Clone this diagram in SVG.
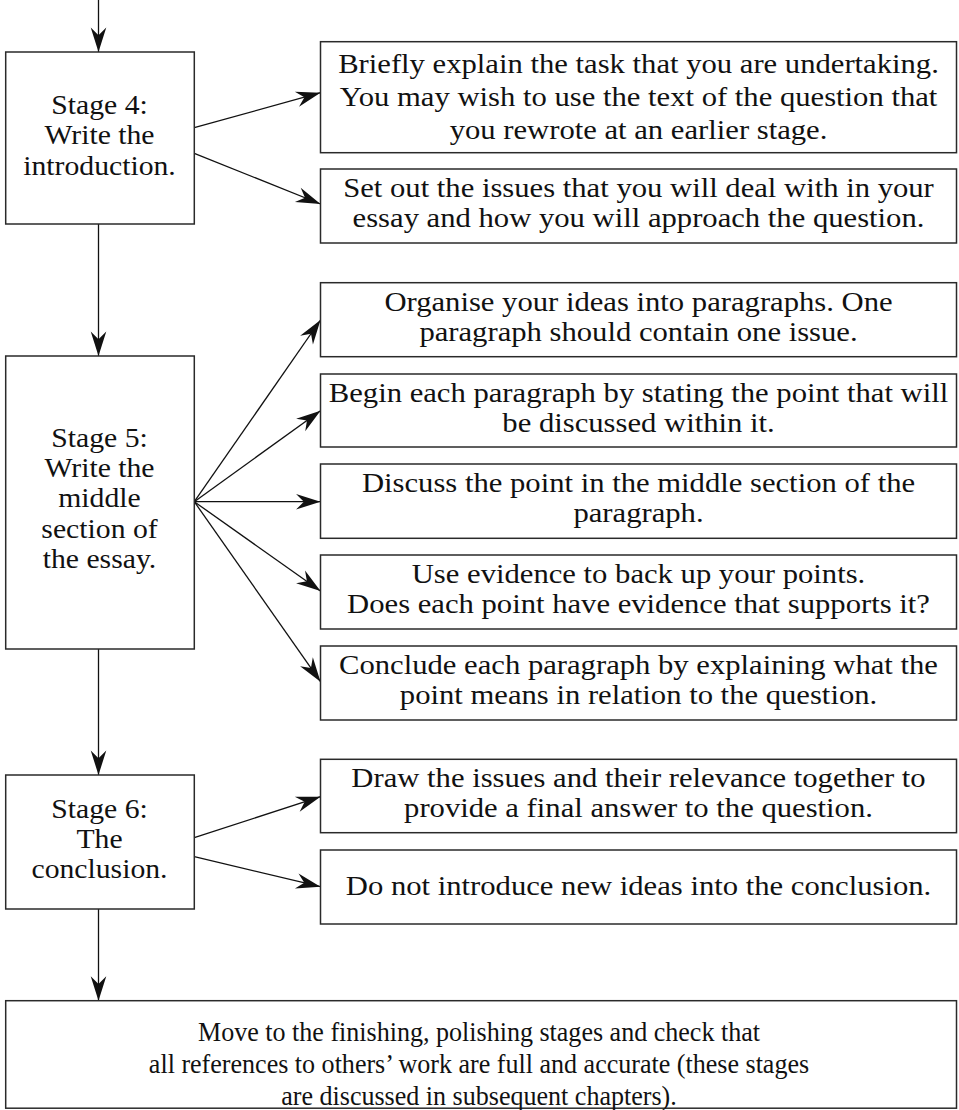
<svg xmlns="http://www.w3.org/2000/svg" width="959" height="1110" viewBox="0 0 959 1110">
  <style>
    .box { fill: #ffffff; stroke: #2a2a2a; stroke-width: 1.5; }
    .lbl { font-family: "Liberation Serif", "Times New Roman", serif; font-size: 27px; fill: #111111; text-anchor: middle; }
    .wire { fill: none; stroke: #111111; stroke-width: 1.3; marker-end: url(#head); }
  </style>
  <defs>
    <marker id="head" markerUnits="userSpaceOnUse" markerWidth="30" markerHeight="20" viewBox="-24 -9 26 18" refX="0" refY="0" orient="auto">
      <path d="M0,0 L-22,-7 L-15,0 L-22,7 Z" fill="#111111"/>
    </marker>
  </defs>

  <rect width="959" height="1110" fill="#ffffff"/>

  <!-- connectors -->
  <g id="connectors">
    <line class="wire" x1="98.5" y1="0" x2="98.5" y2="52"/>
    <line class="wire" x1="194.3" y1="127.7" x2="320.5" y2="92.7"/>
    <line class="wire" x1="194.3" y1="153.3" x2="320.5" y2="204"/>
    <line class="wire" x1="98.5" y1="224" x2="98.5" y2="356"/>
    <line class="wire" x1="194.3" y1="501.7" x2="320.5" y2="320"/>
    <line class="wire" x1="194.3" y1="501.7" x2="320.5" y2="410.7"/>
    <line class="wire" x1="194.3" y1="501.7" x2="320.5" y2="501.7"/>
    <line class="wire" x1="194.3" y1="501.7" x2="320.5" y2="591"/>
    <line class="wire" x1="194.3" y1="501.7" x2="320.5" y2="681.7"/>
    <line class="wire" x1="98.5" y1="649" x2="98.5" y2="775"/>
    <line class="wire" x1="194.3" y1="837.7" x2="320.5" y2="796.7"/>
    <line class="wire" x1="194.3" y1="856.7" x2="320.5" y2="886.7"/>
    <line class="wire" x1="98.5" y1="909" x2="98.5" y2="1000.7"/>
  </g>

  <!-- stage nodes -->
  <g id="stage4">
    <rect class="box" x="5.7" y="52" width="188.6" height="172"/>
    <g transform="translate(99.5,0) scale(1.1,1)">
      <text class="lbl" x="0" y="114">Stage 4:</text>
      <text class="lbl" x="0" y="144.5">Write the</text>
      <text class="lbl" x="0" y="175">introduction.</text>
    </g>
  </g>

  <g id="stage5">
    <rect class="box" x="5.7" y="356" width="188.6" height="293"/>
    <g transform="translate(99.5,0) scale(1.1,1)">
      <text class="lbl" x="0" y="446.7">Stage 5:</text>
      <text class="lbl" x="0" y="477">Write the</text>
      <text class="lbl" x="0" y="507.3">middle</text>
      <text class="lbl" x="0" y="537.6">section of</text>
      <text class="lbl" x="0" y="568">the essay.</text>
    </g>
  </g>

  <g id="stage6">
    <rect class="box" x="5.7" y="775" width="188.6" height="134"/>
    <g transform="translate(99.5,0) scale(1.1,1)">
      <text class="lbl" x="0" y="818.3">Stage 6:</text>
      <text class="lbl" x="0" y="848.3">The</text>
      <text class="lbl" x="0" y="878.3">conclusion.</text>
    </g>
  </g>

  <!-- detail nodes -->
  <g id="intro-task">
    <rect class="box" x="320.5" y="41.7" width="636" height="111"/>
    <g transform="translate(638.5,0) scale(1.135,1)">
      <text class="lbl" x="0" y="73">Briefly explain the task that you are undertaking.</text>
      <text class="lbl" x="0" y="106">You may wish to use the text of the question that</text>
      <text class="lbl" x="0" y="139">you rewrote at an earlier stage.</text>
    </g>
  </g>

  <g id="intro-issues">
    <rect class="box" x="320.5" y="169" width="636" height="74"/>
    <g transform="translate(638.5,0) scale(1.135,1)">
      <text class="lbl" x="0" y="197">Set out the issues that you will deal with in your</text>
      <text class="lbl" x="0" y="227">essay and how you will approach the question.</text>
    </g>
  </g>

  <g id="mid-organise">
    <rect class="box" x="320.5" y="282.7" width="636" height="74"/>
    <g transform="translate(638.5,0) scale(1.135,1)">
      <text class="lbl" x="0" y="311">Organise your ideas into paragraphs. One</text>
      <text class="lbl" x="0" y="341">paragraph should contain one issue.</text>
    </g>
  </g>

  <g id="mid-begin">
    <rect class="box" x="320.5" y="374" width="636" height="73"/>
    <g transform="translate(638.5,0) scale(1.135,1)">
      <text class="lbl" x="0" y="402">Begin each paragraph by stating the point that will</text>
      <text class="lbl" x="0" y="432">be discussed within it.</text>
    </g>
  </g>

  <g id="mid-discuss">
    <rect class="box" x="320.5" y="464" width="636" height="74.3"/>
    <g transform="translate(638.5,0) scale(1.135,1)">
      <text class="lbl" x="0" y="492">Discuss the point in the middle section of the</text>
      <text class="lbl" x="0" y="522">paragraph.</text>
    </g>
  </g>

  <g id="mid-evidence">
    <rect class="box" x="320.5" y="555" width="636" height="74"/>
    <g transform="translate(638.5,0) scale(1.135,1)">
      <text class="lbl" x="0" y="583">Use evidence to back up your points.</text>
      <text class="lbl" x="0" y="613">Does each point have evidence that supports it?</text>
    </g>
  </g>

  <g id="mid-conclude">
    <rect class="box" x="320.5" y="646" width="636" height="74"/>
    <g transform="translate(638.5,0) scale(1.135,1)">
      <text class="lbl" x="0" y="674">Conclude each paragraph by explaining what the</text>
      <text class="lbl" x="0" y="704">point means in relation to the question.</text>
    </g>
  </g>

  <g id="end-draw">
    <rect class="box" x="320.5" y="759.3" width="636" height="73.4"/>
    <g transform="translate(638.5,0) scale(1.135,1)">
      <text class="lbl" x="0" y="787">Draw the issues and their relevance together to</text>
      <text class="lbl" x="0" y="817">provide a final answer to the question.</text>
    </g>
  </g>

  <g id="end-no-new">
    <rect class="box" x="320.5" y="850" width="636" height="74"/>
    <g transform="translate(638.5,0) scale(1.135,1)">
      <text class="lbl" x="0" y="895">Do not introduce new ideas into the conclusion.</text>
    </g>
  </g>

  <g id="finishing">
    <rect class="box" x="5.7" y="1000.7" width="950.8" height="107.5"/>
    <g transform="translate(479,0) scale(0.965,1)">
      <text class="lbl" x="0" y="1041">Move to the finishing, polishing stages and check that</text>
      <text class="lbl" x="0" y="1073">all references to others’ work are full and accurate (these stages</text>
      <text class="lbl" x="0" y="1105">are discussed in subsequent chapters).</text>
    </g>
  </g>
</svg>
